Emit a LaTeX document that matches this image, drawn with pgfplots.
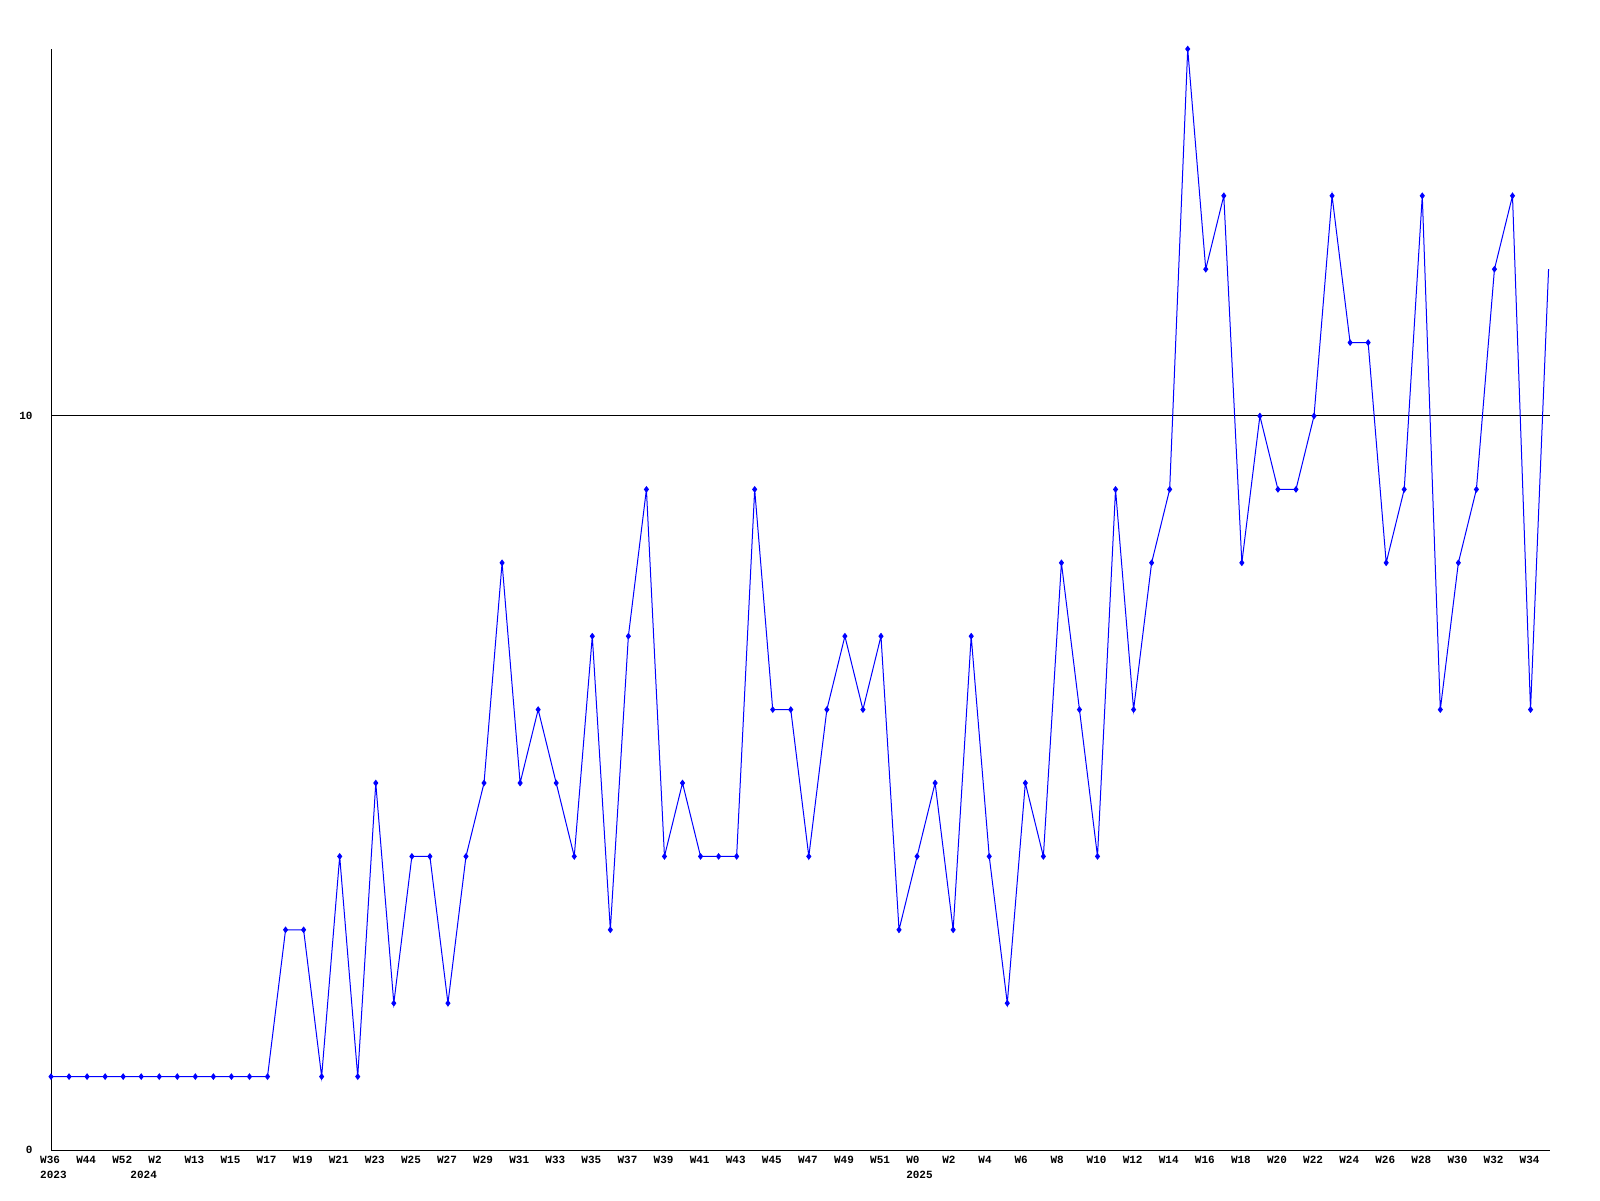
\documentclass[border=0pt]{standalone}
\usepackage{pgfplots}
\pgfplotsset{compat=1.18}
\usepackage{fontspec}
\setmainfont{Liberation Mono}
\begin{document}
\begin{tikzpicture}
\useasboundingbox[fill=white] (-25.5pt,-25pt) rectangle (774.5pt,575pt);
\begin{axis}[
  at={(0,0)}, anchor=south west,
  scale only axis, width=749.5pt, height=550.5pt,
  xmin=0, xmax=83.08, ymin=0, ymax=15,
  axis x line=bottom, axis y line=left,
  axis line style={-, black, line width=0.5pt},
  xtick={0,2,...,82},
  xticklabels={{W36\\2023},W44,W52,{W2\\\hspace*{-9pt}2024},W13,W15,W17,W19,W21,W23,W25,W27,W29,W31,W33,W35,W37,W39,W41,W43,W45,W47,W49,W51,{W0\\2025},W2,W4,W6,W8,W10,W12,W14,W16,W18,W20,W22,W24,W26,W28,W30,W32,W34},
  ytick={0,10},
  ymajorgrids, grid style={black, line width=0.5pt},
  major tick length=0pt,
  /pgf/number format/assume math mode=true,
  tick label style={font=\fontsize{5.5}{7.5}\selectfont\bfseries, inner sep=0pt},
  xticklabel style={anchor=north west, align=left, xshift=-5.6pt, yshift=-3pt},
  yticklabel style={anchor=east, xshift=-9pt},
  clip=false,
]
\addplot[color={rgb,255:red,0;green,0;blue,255}, line width=0.5pt, mark=diamond*, mark size=1.3pt, mark indices={1,...,83}, mark options={solid}] coordinates {
(0,1)(1,1)(2,1)(3,1)(4,1)(5,1)(6,1)(7,1)(8,1)(9,1)(10,1)(11,1)(12,1)
(13,3)(14,3)(15,1)(16,4)(17,1)(18,5)(19,2)(20,4)(21,4)(22,2)(23,4)
(24,5)(25,8)(26,5)(27,6)(28,5)(29,4)(30,7)(31,3)(32,7)(33,9)(34,4)
(35,5)(36,4)(37,4)(38,4)(39,9)(40,6)(41,6)(42,4)(43,6)(44,7)(45,6)
(46,7)(47,3)(48,4)(49,5)(50,3)(51,7)(52,4)(53,2)(54,5)(55,4)(56,8)
(57,6)(58,4)(59,9)(60,6)(61,8)(62,9)(63,15)(64,12)(65,13)(66,8)(67,10)
(68,9)(69,9)(70,10)(71,13)(72,11)(73,11)(74,8)(75,9)(76,13)(77,6)(78,8)
(79,9)(80,12)(81,13)(82,6)(83,12)
};
\end{axis}
\end{tikzpicture}
\end{document}
